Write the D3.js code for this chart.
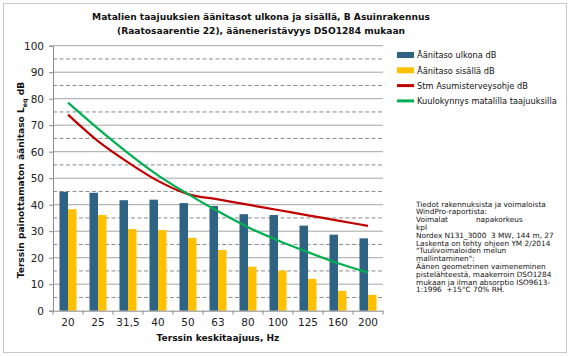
<!DOCTYPE html>
<html><head><meta charset="utf-8">
<script src="https://cdn.jsdelivr.net/npm/d3@7"></script>
<style>body{margin:0;background:#fff}svg{display:block;font-family:"DejaVu Sans",Verdana,sans-serif}</style>
</head><body><svg id="c" width="569" height="356"></svg>
<script>
const categories = ["20","25","31,5","40","50","63","80","100","125","160","200"];
const outside = [44.9,44.5,41.7,41.9,40.6,39.5,36.4,36.1,32.1,28.7,27.3];
const inside = [38.3,36.1,30.8,30.4,27.5,22.9,16.6,15.1,12.0,7.5,6.0];
const stm = [74,64,56,49,44,42,40,38,36,34,32];
const threshold = [78.5,68.7,59.5,51.1,44.0,37.5,31.5,26.5,22.1,17.9,14.4];
const yTicks = [0,10,20,30,40,50,60,70,80,90,100];
const yHalfTicks = [5,15,25,35,45,55,65,75,85,95];
const legendNames = ["Äänitaso ulkona dB","Äänitaso sisällä dB","Stm Asumisterveysohje dB","Kuulokynnys matalilla taajuuksilla"];
const colors = ["#2E6384","#FFC000","#C00000","#00B050"];
const noteLines = ["Tiedot rakennuksista ja voimaloista","WindPro-raportista:","Voimalat            napakorkeus","kpl","Nordex N131_3000  3 MW, 144 m, 27","Laskenta on tehty ohjeen YM 2/2014","\"Tuulivoimaloiden melun","mallintaminen\":","Äänen geometrinen vaimeneminen","pistelähteestä, maakerroin DSO1284","mukaan ja ilman absorptio ISO9613-","1:1996  +15°C 70% RH."];

const svg = d3.select("#c");
const L=53, R=383, T=45.7, B=310.7;
const FF = "DejaVu Sans, Verdana, sans-serif";
svg.append("rect").attr("x",3.5).attr("y",3.5).attr("width",563).attr("height",349).attr("fill","#fff").attr("stroke","#c8c8c8").attr("stroke-width",1);

// font fitting helper: size that makes `str` span `target` px
function fitSize(str, target, weight){
  const t = svg.append("text").attr("font-size","10px").attr("font-family",FF).attr("font-weight",weight||"normal").text(str);
  const w = t.node().getComputedTextLength(); t.remove();
  return 10*target/w;
}

const x = d3.scaleBand().domain(categories).range([L,R]).paddingInner(0).paddingOuter(0);
const y = d3.scaleLinear().domain([0,100]).range([B,T]);

// gridlines
svg.append("g").selectAll("line").data(yTicks.slice(1)).join("line")
  .attr("x1",L).attr("x2",R).attr("y1",d=>y(d)).attr("y2",d=>y(d))
  .attr("stroke","#a6a6a6").attr("stroke-width",1);
svg.append("g").selectAll("line").data(yHalfTicks).join("line")
  .attr("x1",L).attr("x2",R).attr("y1",d=>y(d)).attr("y2",d=>y(d))
  .attr("stroke","#8c8c8c").attr("stroke-width",1).attr("stroke-dasharray","4,2.5");

// bars
const bw = 8.5;
const g = svg.append("g");
g.selectAll(".o").data(outside).join("rect")
  .attr("x",(d,i)=>x(categories[i])+x.bandwidth()/2-bw).attr("width",bw)
  .attr("y",d=>y(d)).attr("height",d=>B-y(d)).attr("fill",colors[0]);
g.selectAll(".i").data(inside).join("rect")
  .attr("x",(d,i)=>x(categories[i])+x.bandwidth()/2).attr("width",bw)
  .attr("y",d=>y(d)).attr("height",d=>B-y(d)).attr("fill",colors[1]);

// lines
const line = d3.line().x((d,i)=>x(categories[i])+x.bandwidth()/2).y(d=>y(d)).curve(d3.curveMonotoneX);
svg.append("path").datum(stm).attr("d",line).attr("fill","none").attr("stroke",colors[2]).attr("stroke-width",2.2);
svg.append("path").datum(threshold).attr("d",line).attr("fill","none").attr("stroke",colors[3]).attr("stroke-width",2.2);

// axes
const tickFs = fitSize("100", 20);
const yAxis = d3.axisLeft(y).tickValues(yTicks).tickSize(4).tickPadding(5);
const ya = svg.append("g").attr("transform",`translate(${L},0)`).call(yAxis);
ya.select(".domain").attr("stroke","#8c8c8c");
ya.selectAll(".tick line").attr("stroke","#8c8c8c");
ya.selectAll("text").attr("font-size",tickFs+"px").attr("fill","#222").attr("font-family",FF);

const xAxis = d3.axisBottom(x).tickSize(0).tickPadding(8);
const xa = svg.append("g").attr("transform",`translate(0,${B})`).call(xAxis);
xa.select(".domain").attr("stroke","#8c8c8c");
xa.selectAll("text").attr("font-size",tickFs+"px").attr("fill","#222").attr("font-family",FF);
svg.append("g").selectAll("line").data(categories.concat(["end"])).join("line")
  .attr("x1",(d,i)=>i<categories.length?x(d):R).attr("x2",(d,i)=>i<categories.length?x(d):R)
  .attr("y1",B).attr("y2",B+4).attr("stroke","#8c8c8c");

// titles
const t1 = "Matalien taajuuksien äänitasot ulkona ja sisällä, B Asuinrakennus";
const t2 = "(Raatosaarentie 22), ääneneristävyys DSO1284 mukaan";
const titleFs = fitSize(t1, 338, "bold");
const title = svg.append("text").attr("text-anchor","middle").attr("font-weight","bold").attr("font-size",titleFs+"px").attr("fill","#111");
title.append("tspan").attr("x",261).attr("y",20).text(t1);
title.append("tspan").attr("x",261).attr("y",34).text(t2);

const xt = "Terssin keskitaajuus, Hz";
svg.append("text").attr("x",(L+R)/2).attr("y",341).attr("text-anchor","middle").attr("font-weight","bold")
  .attr("font-size",fitSize(xt,123,"bold")+"px").attr("fill","#111").text(xt);

const ylFs = fitSize("Terssin painottamaton äänitaso L dB", 188, "bold");
const yl = svg.append("text").attr("transform","translate(24,180) rotate(-90)").attr("text-anchor","middle").attr("font-weight","bold").attr("font-size",ylFs+"px").attr("fill","#111");
yl.append("tspan").text("Terssin painottamaton äänitaso L");
yl.append("tspan").attr("font-size",(ylFs*0.7)+"px").attr("dy",3).text("eq");
yl.append("tspan").attr("dy",-3).text(" dB");

// legend
const lgFs = fitSize(legendNames[3], 140);
const lg = svg.append("g");
legendNames.forEach((n,i)=>{
  const yy = 55 + i*15.3;
  lg.append("rect").attr("x",397).attr("y",yy-(i<2?3:1.5)).attr("width",17).attr("height",i<2?6:3).attr("fill",colors[i]);
  lg.append("text").attr("x",417).attr("y",yy+3.2).attr("font-size",lgFs+"px").attr("fill","#111").text(n);
});

// note
const ntFs = fitSize(noteLines[0], 130);
const nt = svg.append("text").attr("font-size",ntFs+"px").attr("fill","#111").attr("xml:space","preserve");
noteLines.forEach((s,i)=>{
  nt.append("tspan").attr("x",416).attr("y",206.5+i*7.8).text(s);
});
</script></body></html>
